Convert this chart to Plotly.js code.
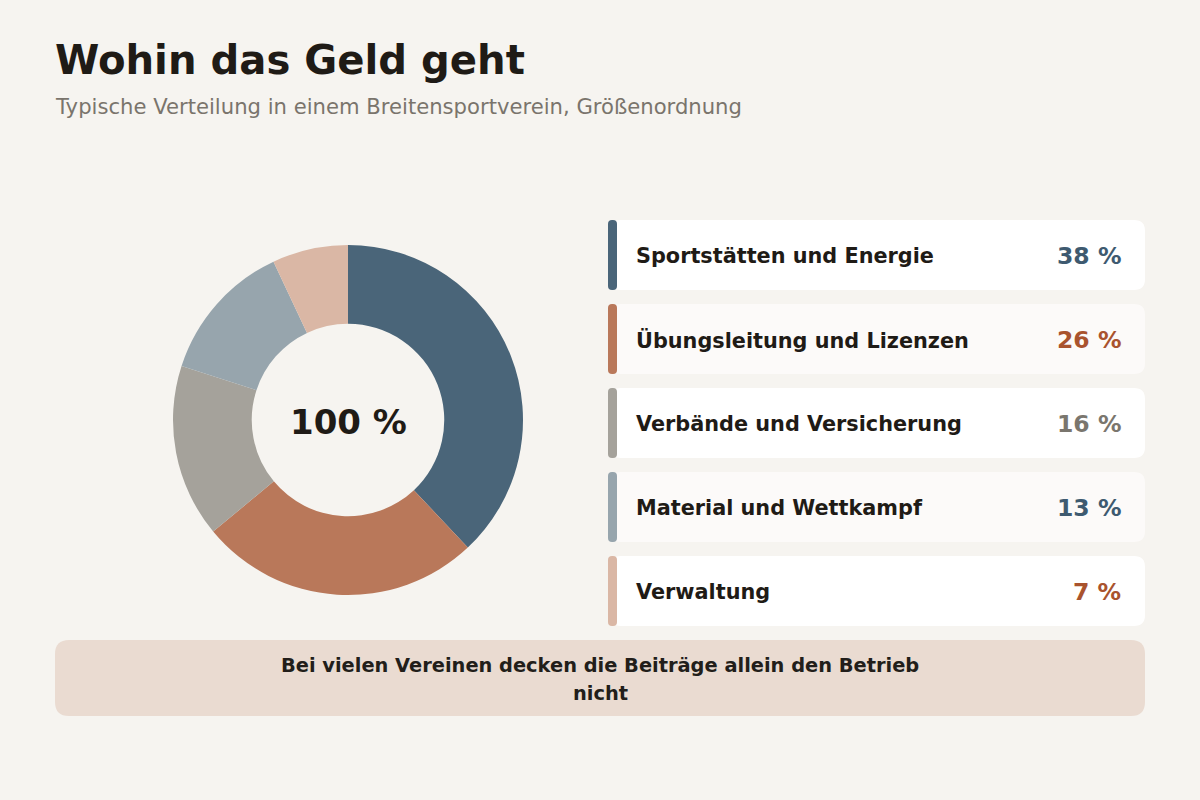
<!DOCTYPE html>
<html>
<head>
<meta charset="utf-8">
<script src="https://cdn.plot.ly/plotly-3.0.1.min.js"></script>
<style>
  html, body { margin: 0; padding: 0; background: #f6f4f0; }
  #chart { width: 1200px; height: 800px; }
</style>
</head>
<body>
<div id="chart"></div>
<script>
var categories = ['Sportstätten und Energie', 'Übungsleitung und Lizenzen', 'Verbände und Versicherung', 'Material und Wettkampf', 'Verwaltung'];
var shares = [38, 26, 16, 13, 7];
var totalLabel = '100 %';
var title = 'Wohin das Geld geht';
var subtitle = 'Typische Verteilung in einem Breitensportverein, Größenordnung';
var noteLines = ['Bei vielen Vereinen decken die Beiträge allein den Betrieb', 'nicht'];

var sliceColors = ['#4a6579', '#b9785a', '#a5a29b', '#97a5ad', '#dab7a5'];
var valueColors = ['#3e5a70', '#a9532e', '#7a766e', '#3e5a70', '#a9532e'];
var cardFills = ['#ffffff', '#fcfaf9'];

var W = 1200, H = 800;
var FONT = 'DejaVu Sans, sans-serif';
function fx(x) { return x / W; }
function fy(y) { return 1 - y / H; }

// rounded rectangle as a paper-coordinate path
function roundRect(x0, y0, x1, y1, r) {
  var rx = r / W, ry = r / H;
  var a = fx(x0), b = fx(x1), t = fy(y0), u = fy(y1);
  return 'M' + (a + rx) + ',' + t +
    ' L' + (b - rx) + ',' + t + ' Q' + b + ',' + t + ' ' + b + ',' + (t - ry) +
    ' L' + b + ',' + (u + ry) + ' Q' + b + ',' + u + ' ' + (b - rx) + ',' + u +
    ' L' + (a + rx) + ',' + u + ' Q' + a + ',' + u + ' ' + a + ',' + (u + ry) +
    ' L' + a + ',' + (t - ry) + ' Q' + a + ',' + t + ' ' + (a + rx) + ',' + t + ' Z';
}

function label(x, y, text, size, color, anchor) {
  return { xref: 'paper', yref: 'paper', x: fx(x), y: fy(y), xanchor: anchor || 'left', yanchor: 'middle',
    text: text, showarrow: false, borderpad: 0, font: { family: FONT, size: size, color: color } };
}

var data = [{
  type: 'pie',
  labels: categories,
  values: shares,
  hole: 0.55,
  sort: false,
  direction: 'clockwise',
  rotation: 0,
  textinfo: 'none',
  hoverinfo: 'none',
  marker: { colors: sliceColors, line: { width: 0 } },
  domain: { x: [fx(173), fx(523)], y: [fy(595), fy(245)] }
}];

var shapes = [];
var annotations = [];

annotations.push(label(54, 60, '<b>' + title + '</b>', 40.2, '#1f1b16'));
annotations.push(label(54, 106, subtitle, 21.15, '#7a746c'));
annotations.push(label(348, 422, '<b>' + totalLabel + '</b>', 34, '#1f1b16', 'center'));

for (var i = 0; i < categories.length; i++) {
  var cardTop = 220 + i * 84, cardBot = cardTop + 70, cardMid = cardTop + 36;
  shapes.push({ type: 'path', xref: 'paper', yref: 'paper', path: roundRect(610, cardTop, 1145, cardBot, 11),
    fillcolor: cardFills[i % 2], line: { width: 0 }, layer: 'below' });
  shapes.push({ type: 'path', xref: 'paper', yref: 'paper', path: roundRect(608, cardTop, 617, cardBot, 4),
    fillcolor: sliceColors[i], line: { width: 0 }, layer: 'below' });
  annotations.push(label(635, cardMid, '<b>' + categories[i] + '</b>', 20.8, '#1f1b16'));
  annotations.push(label(1122, cardMid, '<b>' + shares[i] + ' %</b>', 23.5, valueColors[i], 'right'));
}

shapes.push({ type: 'path', xref: 'paper', yref: 'paper', path: roundRect(55, 640, 1145, 716, 14),
  fillcolor: '#eadbd1', line: { width: 0 }, layer: 'below' });
for (var j = 0; j < noteLines.length; j++) {
  annotations.push(label(600, 665 + j * 28, '<b>' + noteLines[j] + '</b>', 19.4, '#221e1a', 'center'));
}

var layout = {
  width: W, height: H,
  margin: { l: 0, r: 0, t: 0, b: 0 },
  paper_bgcolor: '#f6f4f0',
  plot_bgcolor: '#f6f4f0',
  showlegend: false,
  shapes: shapes,
  annotations: annotations
};

Plotly.newPlot('chart', data, layout, { displayModeBar: false, staticPlot: true });
</script>
</body>
</html>
